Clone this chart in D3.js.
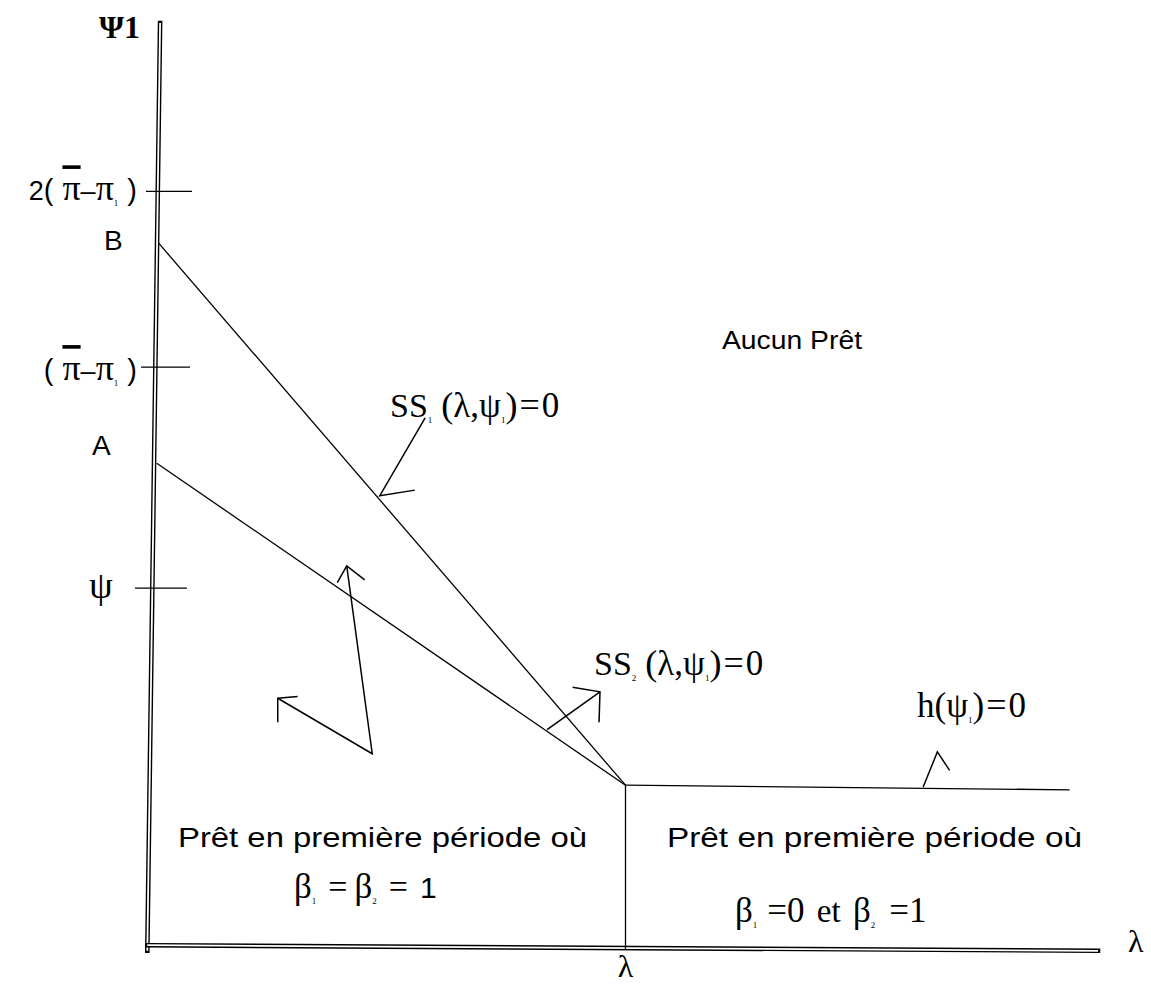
<!DOCTYPE html>
<html><head><meta charset="utf-8">
<script src="https://cdn.jsdelivr.net/npm/d3@7"></script>
<style>body{margin:0;background:#fff}</style>
</head><body>
<svg id="c" width="1151" height="989"></svg>
<script>
// ---------- data (diagram units: λ on x, ψ1 on y) ----------
const xDomain = [0, 10];
const yDomain = [0, 10];
const yAxisPts = [[0.075, 10], [-0.06, -0.03]];
const xAxisPts = [[-0.06, 0.03], [10, -0.03]];
const yTickValues = [8.18, 6.28, 3.89];
const yTickNames = ["2(π̄−π1)", "(π̄−π1)", "ψ"];
const pointNames = ["B", "A"];
const pointValues = [7.62, 5.24];
const kinkX = 5;
const kinkY = 1.76;
const curveSS1 = [[0.06, 7.62], [kinkX, kinkY]];
const curveSS2 = [[0.04, 5.24], [kinkX, kinkY]];
const curveH = [[kinkX, kinkY], [9.70, 1.71]];
const boundaryV = [[kinkX, kinkY], [kinkX, -0.01]];
const arrowSS1 = [[2.88, 5.73], [2.40, 4.89], [2.77, 4.95]];
const arrowSS2 = [[4.17, 2.36], [4.73, 2.77]];
const arrowSS2Head = [[4.44, 2.82], [4.73, 2.77], [4.72, 2.44]];
const arrowH = [[8.15, 1.74], [8.30, 2.12], [8.43, 1.92]];
const zigzag = [[1.32, 2.70], [2.32, 2.10], [2.05, 4.13]];
const zigHeadTop = [[1.95, 3.95], [2.05, 4.13], [2.24, 3.98]];
const zigHeadLeft = [[1.53, 2.72], [1.32, 2.70], [1.32, 2.44]];
const regionNames = ["Aucun Prêt", "Prêt en première période où", "Prêt en première période où"];

// ---------- drawing ----------
const svg = d3.select("#c");
const x = d3.scaleLinear().domain(xDomain).range([153, 1098]);
const y = d3.scaleLinear().domain(yDomain).range([948, 23]);
const line = d3.line().x(d => x(d[0])).y(d => y(d[1]));
const SANS = "'Liberation Sans', Arial, sans-serif";
const SERIF = "'Liberation Serif', 'Times New Roman', serif";

// axes: double lines
function doubleLine(pts) {
  svg.append("path").attr("d", line(pts)).attr("fill", "none")
    .attr("stroke", "#000").attr("stroke-width", 4.6).attr("stroke-linecap", "square");
  svg.append("path").attr("d", line(pts)).attr("fill", "none")
    .attr("stroke", "#fff").attr("stroke-width", 1.8).attr("stroke-linecap", "butt");
}
doubleLine(yAxisPts);
doubleLine(xAxisPts);

// ticks on the ψ1 axis
svg.selectAll("line.tick").data(yTickValues).join("line")
  .attr("class", "tick")
  .attr("x1", (d, i) => x(0) - [7, 12, 18][i]).attr("x2", (d, i) => x(0) + [39, 37, 34][i])
  .attr("y1", d => y(d)).attr("y2", d => y(d))
  .attr("stroke", "#000").attr("stroke-width", 1.3);

// curves
[curveSS1, curveSS2, curveH, boundaryV].forEach(c =>
  svg.append("path").attr("d", line(c)).attr("fill", "none").attr("stroke", "#000").attr("stroke-width", 1.3));
[arrowSS1, arrowSS2, arrowSS2Head, arrowH, zigzag, zigHeadTop, zigHeadLeft].forEach(c =>
  svg.append("path").attr("d", line(c)).attr("fill", "none").attr("stroke", "#000")
    .attr("stroke-width", 1.5).attr("stroke-linejoin", "miter"));

// rich text helper
function rich(px, py, parts, anchor) {
  const t = svg.append("text").attr("x", px).attr("y", py)
    .attr("text-anchor", anchor || "start").attr("fill", "#000");
  let shift = 0;
  parts.forEach(p => {
    const s = t.append("tspan").text(p.t)
      .attr("font-family", p.f === "sans" ? SANS : SERIF)
      .attr("font-size", p.s || 28);
    let dy = 0;
    if (p.sub) { dy = 6 - shift; shift = 6; s.attr("font-size", 9); }
    else if (shift) { dy = -shift; shift = 0; }
    if (dy) s.attr("dy", dy);
    if (p.dx) s.attr("dx", p.dx);
    if (p.over) s.style("text-decoration", "overline");
    if (p.w) s.attr("font-weight", p.w);
  });
  return t;
}

// axis titles
rich(99, 38, [{t: "Ψ1", f: "serif", s: 32, w: "bold"}]);
rich(1128, y(0) + 4, [{t: "λ", f: "serif", s: 32}]);
rich(x(kinkX), 977, [{t: "λ", f: "serif", s: 32}], "middle");

// tick labels
function piLabel(prefix, yy) {
  const parts = [];
  if (prefix) parts.push({t: prefix, f: "sans", s: 27});
  parts.push({t: "(", f: "sans", s: 29});
  parts.push({t: "π", f: "serif", s: 36, dx: 9, over: true});
  parts.push({t: "–", f: "sans", s: 27});
  parts.push({t: "π", f: "serif", s: 36});
  parts.push({t: "1", sub: true});
  parts.push({t: ")", f: "sans", s: 29, dx: 9});
  rich(137, yy, parts, "end");
}
piLabel("2", y(yTickValues[0]) + 9);
piLabel("", y(yTickValues[1]) + 13);
rich(89, y(yTickValues[2]) + 10, [{t: yTickNames[2], f: "serif", s: 38}]);

// point labels
rich(104, y(pointValues[0]) + 7, [{t: pointNames[0], f: "sans", s: 28}]);
rich(92, y(pointValues[1]) - 8, [{t: pointNames[1], f: "sans", s: 28}]);

// region labels
svg.append("text").attr("x", 722).attr("y", 349).text(regionNames[0])
  .attr("font-family", SANS).attr("font-size", 26).attr("textLength", 140).attr("lengthAdjust", "spacingAndGlyphs");
svg.append("text").attr("x", 178).attr("y", 847).text(regionNames[1])
  .attr("font-family", SANS).attr("font-size", 28).attr("textLength", 409).attr("lengthAdjust", "spacingAndGlyphs");
svg.append("text").attr("x", 667).attr("y", 847).text(regionNames[2])
  .attr("font-family", SANS).attr("font-size", 28).attr("textLength", 415).attr("lengthAdjust", "spacingAndGlyphs");

// curve labels
function ssLabel(px, py, k) {
  rich(px, py, [
    {t: "SS", f: "serif", s: 34}, {t: k, sub: true},
    {t: "(", f: "serif", s: 36, dx: 9}, {t: "λ,ψ", f: "serif", s: 35}, {t: "1", sub: true},
    {t: ")", f: "serif", s: 36}, {t: "=", f: "serif", s: 36, dx: 2}, {t: "0", f: "serif", s: 35, dx: 2}
  ]);
}
ssLabel(390, 417, "1");
ssLabel(594, 675, "2");
rich(917, 717, [{t: "h(ψ", f: "serif", s: 35}, {t: "1", sub: true}, {t: ")", f: "serif", s: 35},
  {t: "=", f: "serif", s: 36, dx: 2}, {t: "0", f: "serif", s: 35, dx: 2}]);

// β conditions
rich(294, 898, [
  {t: "β", f: "serif", s: 35}, {t: "1", sub: true}, {t: "=", f: "serif", s: 34, dx: 12},
  {t: "β", f: "serif", s: 35, dx: 7}, {t: "2", sub: true}, {t: "=", f: "serif", s: 34, dx: 12},
  {t: "1", f: "sans", s: 30, dx: 12}
]);
rich(735, 922, [
  {t: "β", f: "serif", s: 35}, {t: "1", sub: true}, {t: "=0", f: "serif", s: 35, dx: 10},
  {t: " et ", f: "serif", s: 33, dx: 4},
  {t: "β", f: "serif", s: 35, dx: 4}, {t: "2", sub: true}, {t: "=1", f: "serif", s: 35, dx: 14}
]);
</script>
</body></html>
